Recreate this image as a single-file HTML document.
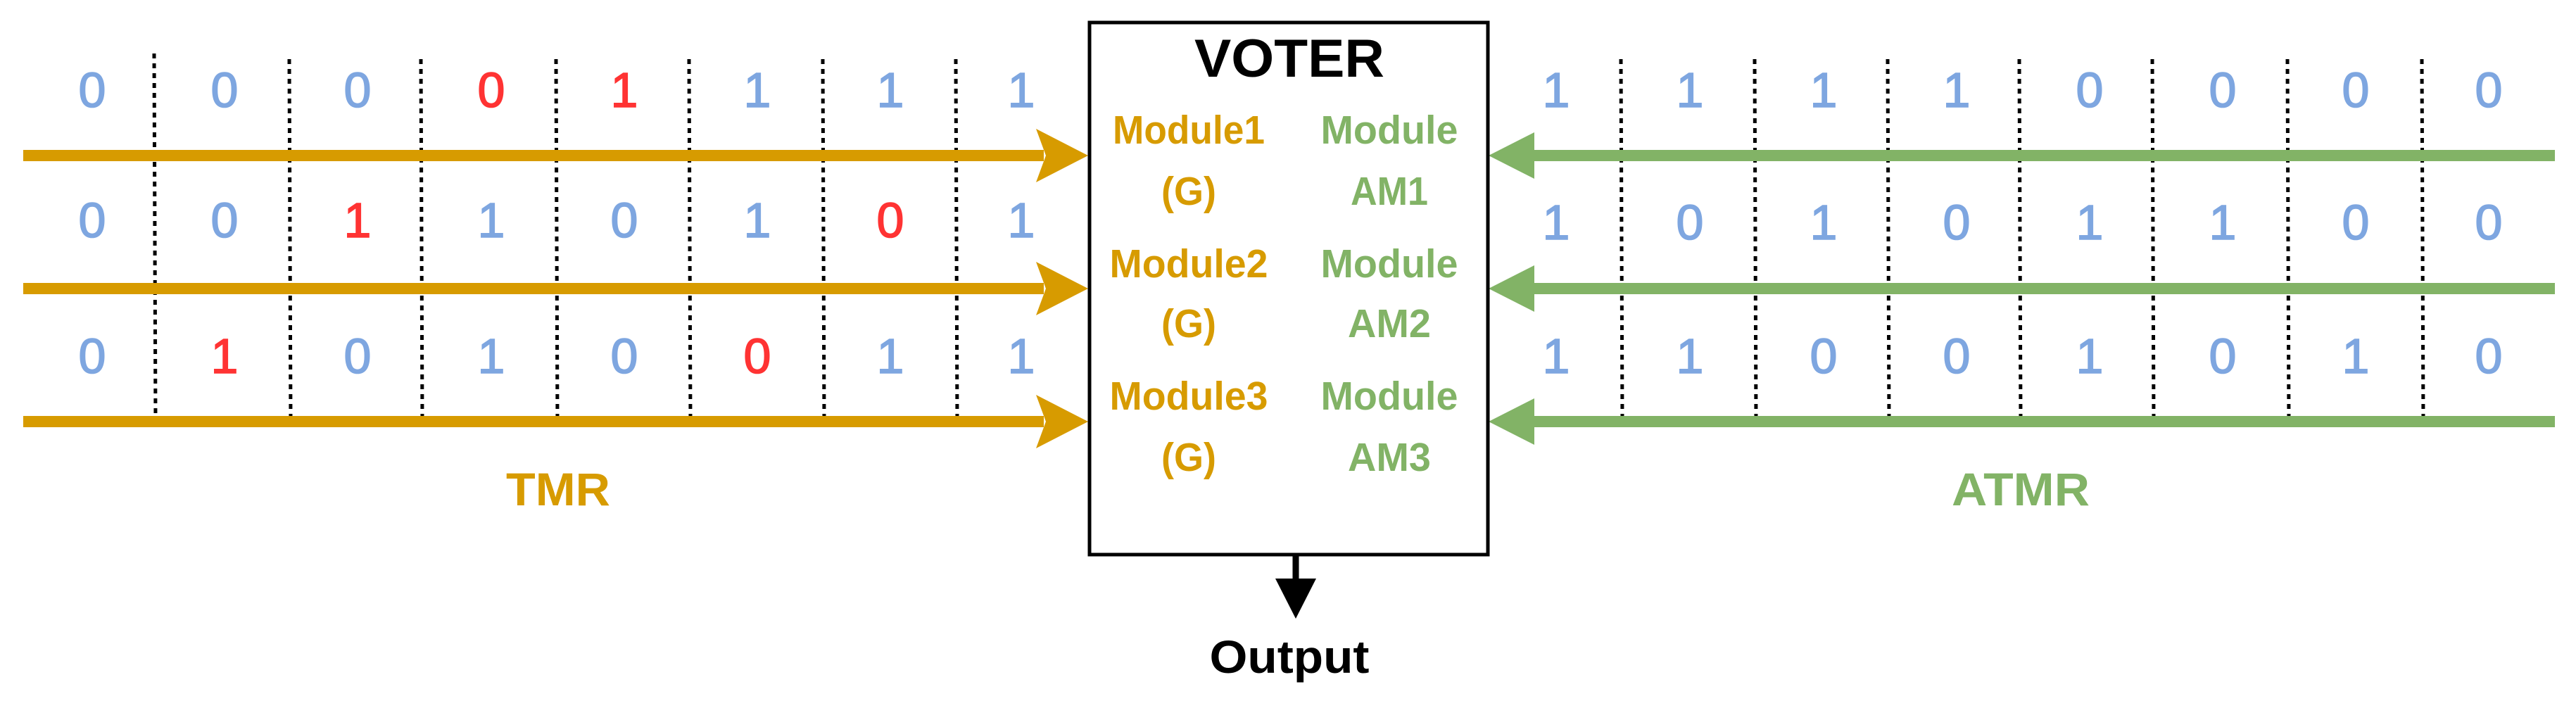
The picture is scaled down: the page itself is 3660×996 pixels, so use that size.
<!DOCTYPE html>
<html><head><meta charset="utf-8"><style>
html,body{margin:0;padding:0;background:#fff;}
svg{display:block;}
.d{font-family:"Liberation Sans",sans-serif;font-size:70px;text-anchor:middle;stroke-width:1.6px;}
.b{font-family:"Liberation Sans",sans-serif;font-weight:bold;text-anchor:middle;}
</style></head><body>
<svg width="3660" height="996" viewBox="0 0 3660 996" xmlns="http://www.w3.org/2000/svg">
<g stroke="#000" stroke-width="5" stroke-dasharray="7 7">
<line x1="219" y1="76" x2="221" y2="600"/><line x1="411" y1="84" x2="413" y2="600"/>
<line x1="598" y1="84" x2="600" y2="600"/><line x1="790" y1="84" x2="792" y2="600"/>
<line x1="979" y1="84" x2="981" y2="600"/><line x1="1169" y1="84" x2="1171" y2="600"/>
<line x1="1358" y1="84" x2="1360" y2="600"/>
<line x1="2303" y1="84" x2="2305" y2="600"/><line x1="2493" y1="84" x2="2495" y2="600"/>
<line x1="2682" y1="84" x2="2684" y2="600"/><line x1="2869" y1="84" x2="2871" y2="600"/>
<line x1="3058" y1="84" x2="3060" y2="600"/><line x1="3250" y1="84" x2="3252" y2="600"/>
<line x1="3441" y1="84" x2="3443" y2="600"/>
</g>
<g fill="#d79b00">
<rect x="33" y="213" width="1450" height="16"/><polygon points="1472,183 1546,221 1472,259 1486,221"/>
<rect x="33" y="402" width="1450" height="16"/><polygon points="1472,372 1546,410 1472,448 1486,410"/>
<rect x="33" y="591" width="1450" height="16"/><polygon points="1472,561 1546,599 1472,637 1486,599"/>
</g>
<g fill="#82b366">
<rect x="2175" y="213" width="1455" height="16"/><polygon points="2180,188 2115,221 2180,254"/>
<rect x="2175" y="402" width="1455" height="16"/><polygon points="2180,377 2115,410 2180,443"/>
<rect x="2175" y="591" width="1455" height="16"/><polygon points="2180,566 2115,599 2180,632"/>
</g>
<rect x="1548" y="32" width="566" height="756" fill="#fff" stroke="#000" stroke-width="5"/>
<line x1="1841" y1="789" x2="1841" y2="835" stroke="#000" stroke-width="9"/>
<polygon points="1812,822 1870,822 1841,879" fill="#000"/>
<g class="d">
<text x="131" y="152" fill="#7ea6e0" stroke="#7ea6e0">0</text><text x="319" y="152" fill="#7ea6e0" stroke="#7ea6e0">0</text><text x="508" y="152" fill="#7ea6e0" stroke="#7ea6e0">0</text><text x="698" y="152" fill="#ff3333" stroke="#ff3333">0</text><text x="887" y="152" fill="#ff3333" stroke="#ff3333">1</text><text x="1076" y="152" fill="#7ea6e0" stroke="#7ea6e0">1</text><text x="1265" y="152" fill="#7ea6e0" stroke="#7ea6e0">1</text><text x="1451" y="152" fill="#7ea6e0" stroke="#7ea6e0">1</text>
<text x="131" y="337" fill="#7ea6e0" stroke="#7ea6e0">0</text><text x="319" y="337" fill="#7ea6e0" stroke="#7ea6e0">0</text><text x="508" y="337" fill="#ff3333" stroke="#ff3333">1</text><text x="698" y="337" fill="#7ea6e0" stroke="#7ea6e0">1</text><text x="887" y="337" fill="#7ea6e0" stroke="#7ea6e0">0</text><text x="1076" y="337" fill="#7ea6e0" stroke="#7ea6e0">1</text><text x="1265" y="337" fill="#ff3333" stroke="#ff3333">0</text><text x="1451" y="337" fill="#7ea6e0" stroke="#7ea6e0">1</text>
<text x="131" y="530" fill="#7ea6e0" stroke="#7ea6e0">0</text><text x="319" y="530" fill="#ff3333" stroke="#ff3333">1</text><text x="508" y="530" fill="#7ea6e0" stroke="#7ea6e0">0</text><text x="698" y="530" fill="#7ea6e0" stroke="#7ea6e0">1</text><text x="887" y="530" fill="#7ea6e0" stroke="#7ea6e0">0</text><text x="1076" y="530" fill="#ff3333" stroke="#ff3333">0</text><text x="1265" y="530" fill="#7ea6e0" stroke="#7ea6e0">1</text><text x="1451" y="530" fill="#7ea6e0" stroke="#7ea6e0">1</text>
</g>
<g class="d" fill="#7ea6e0" stroke="#7ea6e0">
<text x="2211" y="152">1</text><text x="2401" y="152">1</text><text x="2591" y="152">1</text><text x="2780" y="152">1</text><text x="2969" y="152">0</text><text x="3158" y="152">0</text><text x="3347" y="152">0</text><text x="3536" y="152">0</text>
<text x="2211" y="340">1</text><text x="2401" y="340">0</text><text x="2591" y="340">1</text><text x="2780" y="340">0</text><text x="2969" y="340">1</text><text x="3158" y="340">1</text><text x="3347" y="340">0</text><text x="3536" y="340">0</text>
<text x="2211" y="530">1</text><text x="2401" y="530">1</text><text x="2591" y="530">0</text><text x="2780" y="530">0</text><text x="2969" y="530">1</text><text x="3158" y="530">0</text><text x="3347" y="530">1</text><text x="3536" y="530">0</text>
</g>
<text class="b" x="793" y="718" font-size="66" fill="#d79b00" textLength="148" lengthAdjust="spacingAndGlyphs">TMR</text>
<text class="b" x="2871" y="718" font-size="66" fill="#82b366" textLength="196" lengthAdjust="spacingAndGlyphs">ATMR</text>
<text class="b" x="1832" y="109" font-size="76" fill="#000" textLength="270" lengthAdjust="spacingAndGlyphs">VOTER</text>
<g class="b" font-size="57" fill="#d79b00">
<text x="1689" y="204" textLength="216" lengthAdjust="spacingAndGlyphs">Module1</text>
<text x="1689" y="291" textLength="78" lengthAdjust="spacingAndGlyphs">(G)</text>
<text x="1689" y="394" textLength="225" lengthAdjust="spacingAndGlyphs">Module2</text>
<text x="1689" y="479" textLength="78" lengthAdjust="spacingAndGlyphs">(G)</text>
<text x="1689" y="582" textLength="225" lengthAdjust="spacingAndGlyphs">Module3</text>
<text x="1689" y="669" textLength="78" lengthAdjust="spacingAndGlyphs">(G)</text>
</g>
<g class="b" font-size="57" fill="#82b366">
<text x="1974" y="204" textLength="195" lengthAdjust="spacingAndGlyphs">Module</text>
<text x="1974" y="291" textLength="110" lengthAdjust="spacingAndGlyphs">AM1</text>
<text x="1974" y="394" textLength="195" lengthAdjust="spacingAndGlyphs">Module</text>
<text x="1974" y="479" textLength="118" lengthAdjust="spacingAndGlyphs">AM2</text>
<text x="1974" y="582" textLength="195" lengthAdjust="spacingAndGlyphs">Module</text>
<text x="1974" y="669" textLength="118" lengthAdjust="spacingAndGlyphs">AM3</text>
</g>
<text class="b" x="1832" y="956" font-size="66" fill="#000" textLength="227" lengthAdjust="spacingAndGlyphs">Output</text>
</svg>
</body></html>
